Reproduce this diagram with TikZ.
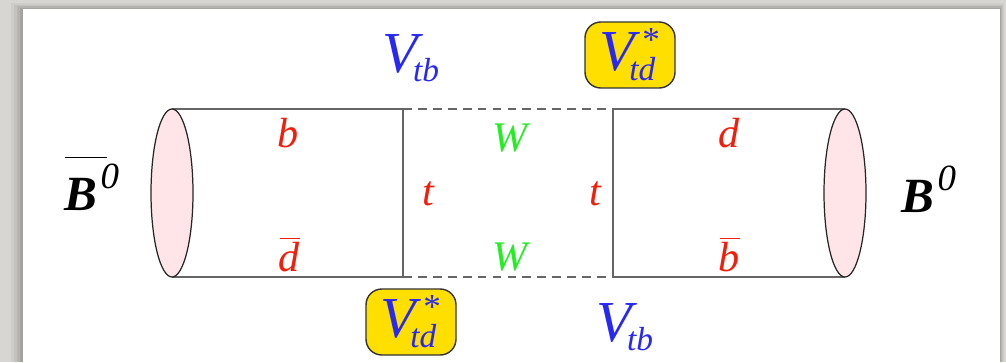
\documentclass[tikz,border=0pt]{standalone}
\usepackage{amsmath}
\usepackage{fontspec}
\setmainfont{Liberation Serif}
\usetikzlibrary{shapes.geometric}
\definecolor{bggray}{HTML}{D8D6D2}
\definecolor{qred}{HTML}{F01E0A}
\definecolor{qblue}{HTML}{2828F5}
\definecolor{qgreen}{HTML}{22EE22}
\definecolor{boxyellow}{HTML}{FFDF00}
\definecolor{pinkfill}{HTML}{FFE4E8}
\definecolor{linegray}{HTML}{666666}
\newcommand{\ckmV}[1]{{\fontsize{33}{36}\selectfont\itshape V}\kern-3pt\raisebox{-5.5pt}{\fontsize{19}{20}\selectfont\itshape #1}}
\newcommand{\ckmVstar}[1]{{\fontsize{33}{36}\selectfont\itshape V}\kern-3pt\makebox[0pt][l]{\raisebox{-5.5pt}{\fontsize{19}{20}\selectfont\itshape #1}}\kern7.5pt\raisebox{11pt}{\fontsize{20}{20}\selectfont *}\kern0.5pt}
\newcommand{\mesonB}{{\bfseries\itshape B}}
\newcommand{\mesonsup}{\kern2pt\raisebox{12.5pt}{\fontsize{21}{21}\selectfont\itshape 0}}
\newcommand{\qbar}[1]{\makebox[0pt][l]{\kern1pt\raisebox{18pt}{\rule{11.5pt}{0.7pt}}}#1}
\begin{document}
\begin{tikzpicture}[x=0.02cm,y=-0.02cm,
  quark/.style={text=qred,inner sep=0pt,anchor=base,font=\fontsize{24}{28}\selectfont\itshape},
  boson/.style={text=qgreen,inner sep=0pt,anchor=base,font=\fontsize{24}{28}\selectfont\itshape},
  ckm/.style={text=qblue,inner sep=0pt},
  ckmbox/.style={ckm,fill=boxyellow,draw=black!80,line width=0.8pt,rounded corners=9pt,minimum width=1.8cm,minimum height=1.32cm,text height=25.6pt,text depth=8pt},
  meson/.style={inner sep=0pt,anchor=base west,font=\fontsize{28}{30}\selectfont},
  endcap/.style={draw=black!85,line width=0.7pt,fill=pinkfill,ellipse,inner sep=0pt,minimum width=0.84cm,minimum height=3.36cm},
  solidline/.style={draw=linegray,line width=1.1pt},
  wline/.style={draw=linegray,line width=1.1pt,dash pattern=on 5pt off 3.5pt}]
\useasboundingbox (0,0) rectangle (1006,362);
% background and panel
\fill[bggray] (0,0) rectangle (1006,362);
\foreach \d/\o in {12/0.04,9/0.05,6/0.07,3/0.09}{
  \fill[black,opacity=\o] (23-\d,9-\d*0.5) rectangle (1000+\d*0.3,362);
}
\fill[white] (23,9) rectangle (1000,362);
% coordinates of the box diagram
\coordinate (LT) at (172,109);
\coordinate (LB) at (172,277);
\coordinate (AT) at (403,109);
\coordinate (AB) at (403,277);
\coordinate (BT) at (613,109);
\coordinate (BB) at (613,277);
\coordinate (RT) at (845,109);
\coordinate (RB) at (845,277);
% lines
\draw[solidline] (LT) -- (AT) -- (AB) -- (LB);
\draw[solidline] (RT) -- (BT) -- (BB) -- (RB);
\draw[wline] (AT) -- (BT);
\draw[wline] (AB) -- (BB);
% end caps
\node[endcap] (capL) at (172,193) {};
\node[endcap] (capR) at (845,193) {};
% mesons
\node[meson] (Bbar) at (64,210) {\makebox[0pt][l]{\kern0.5pt\raisebox{29.5pt}{\rule{24pt}{0.9pt}}}\mesonB\mesonsup};
\node[meson] (B) at (901,212) {\mesonB\mesonsup};
% quarks
\node[quark] (b1) at (288,147) {b};
\node[quark] (d1) at (289,271) {\qbar{d}};
\node[quark] (t1) at (428,205) {t};
\node[quark] (t2) at (595,205) {t};
\node[quark] (d2) at (729,147) {d};
\node[quark] (b2) at (729,271) {\qbar{b}};
\node[boson] (W1) at (510,151) {W};
\node[boson] (W2) at (510,270) {W};
% CKM factors
\node[ckm,anchor=base] (Vtb1) at (411,72) {\ckmV{tb}};
\node[ckm,anchor=base] (Vtb2) at (625,341) {\ckmV{tb}};
\node[ckmbox] (Vtd1) at (630,55) {\ckmVstar{td}};
\node[ckmbox] (Vtd2) at (411,322) {\ckmVstar{td}};
\end{tikzpicture}
\end{document}
